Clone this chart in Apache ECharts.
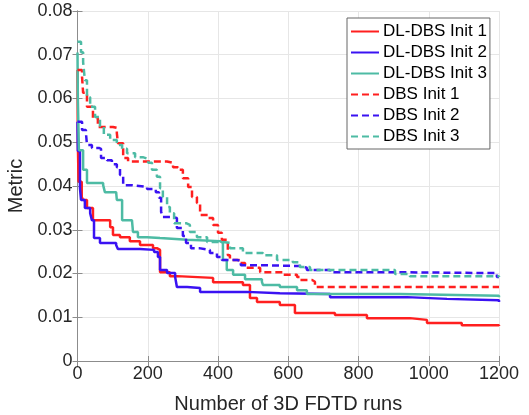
<!DOCTYPE html>
<html>
<head>
<meta charset="utf-8">
<script src="https://cdn.jsdelivr.net/npm/echarts@6/dist/echarts.min.js"></script>
<style>
  html, body { margin: 0; padding: 0; background: #fff; }
  #chart { width: 529px; height: 415px; }
</style>
</head>
<body>
<div id="chart"></div>
<script>
  // 曲线数据 [runs, metric]
  var dlDbs1 = [[0, 0.0665], [1, 0.05], [3, 0.041], [12, 0.0375], [16, 0.0368], [27, 0.035], [44, 0.0322],
    [93, 0.0306], [101, 0.0288], [121, 0.0283], [149, 0.0274], [178, 0.0265], [215, 0.0258], [226, 0.0254],
    [235, 0.0203], [263, 0.0194], [283, 0.019], [386, 0.018], [471, 0.0174], [491, 0.0144], [511, 0.0135],
    [576, 0.0128], [619, 0.011], [733, 0.0105], [824, 0.0098], [946, 0.0094], [995, 0.0087], [1094, 0.0082],
    [1200, 0.008]];
  var dlDbs2 = [[0, 0.0547], [1, 0.048], [7, 0.0395], [10, 0.0368], [21, 0.035], [36, 0.0338], [41, 0.0322],
    [47, 0.0281], [64, 0.027], [110, 0.0265], [115, 0.0256], [178, 0.0254], [218, 0.0249], [229, 0.0238],
    [235, 0.0208], [255, 0.0201], [278, 0.0192], [283, 0.0169], [312, 0.0167], [349, 0.0158], [482, 0.0155],
    [576, 0.0153], [719, 0.0146], [938, 0.0142], [1052, 0.0139], [1200, 0.0135]];
  var dlDbs3 = [[0, 0.0705], [1, 0.06], [4, 0.0482], [16, 0.0437], [27, 0.0407], [73, 0.0402], [78, 0.0386],
    [110, 0.0384], [112, 0.0368], [127, 0.0322], [155, 0.0318], [158, 0.0295], [172, 0.0283], [198, 0.0281],
    [235, 0.0277], [312, 0.0274], [406, 0.027], [414, 0.0231], [425, 0.0208], [443, 0.0197], [477, 0.0187],
    [525, 0.0181], [528, 0.0174], [576, 0.0169], [625, 0.0162], [653, 0.0153], [918, 0.0149], [1200, 0.0146]];
  var dbs1 = [[0, 0.0665], [13, 0.0649], [16, 0.0613], [27, 0.0581], [44, 0.0555], [58, 0.0535], [101, 0.0533],
    [112, 0.0521], [115, 0.0498], [130, 0.0464], [144, 0.0456], [255, 0.0453], [272, 0.0443], [286, 0.0437],
    [300, 0.0418], [315, 0.0398], [326, 0.0375], [340, 0.0361], [349, 0.0334], [371, 0.0327], [386, 0.0311],
    [400, 0.0293], [411, 0.0277], [428, 0.0242], [434, 0.0231], [463, 0.0224], [477, 0.0213], [520, 0.0203],
    [585, 0.0197], [625, 0.0192], [633, 0.0185], [668, 0.0181], [676, 0.0169], [1200, 0.0169]];
  var dbs2 = [[0, 0.0547], [13, 0.0528], [24, 0.0521], [27, 0.0494], [41, 0.0487], [61, 0.0485], [67, 0.0464],
    [84, 0.0459], [98, 0.045], [112, 0.0443], [121, 0.0425], [130, 0.0402], [155, 0.0398], [198, 0.0393],
    [223, 0.0386], [232, 0.0373], [238, 0.0341], [243, 0.0329], [269, 0.0327], [283, 0.0304], [300, 0.0286],
    [309, 0.027], [323, 0.0258], [346, 0.0254], [377, 0.0247], [397, 0.0238], [411, 0.0231], [454, 0.0229],
    [465, 0.0219], [520, 0.0217], [633, 0.0213], [653, 0.0208], [719, 0.0203], [904, 0.0201], [1174, 0.0201],
    [1194, 0.0192], [1200, 0.0192]];
  var dbs3 = [[0, 0.073], [10, 0.0706], [16, 0.0683], [21, 0.0642], [27, 0.0603], [36, 0.0581], [50, 0.0558],
    [64, 0.0537], [75, 0.0517], [93, 0.0505], [112, 0.0494], [127, 0.0485], [141, 0.0475], [164, 0.0466],
    [186, 0.0462], [201, 0.0453], [212, 0.0437], [226, 0.0421], [235, 0.0395], [243, 0.0375], [255, 0.0352],
    [263, 0.0338], [275, 0.0315], [309, 0.0311], [320, 0.0295], [340, 0.0283], [369, 0.0272], [411, 0.027],
    [434, 0.0258], [471, 0.0247], [528, 0.0242], [568, 0.0231], [613, 0.0226], [633, 0.0215], [662, 0.0208],
    [767, 0.0208], [904, 0.0199], [946, 0.0194], [1200, 0.0192]];

  var seriesNames = ['DL-DBS Init 1', 'DL-DBS Init 2', 'DL-DBS Init 3', 'DBS Init 1', 'DBS Init 2', 'DBS Init 3'];
  var seriesData = [dlDbs1, dlDbs2, dlDbs3, dbs1, dbs2, dbs3];
  var colors = ['#ff1f1f', '#3a12f2', '#4dbba4', '#ff1f1f', '#3a12f2', '#4dbba4'];

  var font = '"Liberation Sans", Arial, Helvetica, sans-serif';
  var textColor = '#262626';
  var axisColor = '#8c8c8c';

  var series = [];
  for (var i = 0; i < seriesData.length; i++) {
    series.push({
      name: seriesNames[i],
      type: 'line',
      step: 'end',
      symbol: 'none',
      data: seriesData[i],
      lineStyle: {
        color: colors[i],
        width: 2.5,
        type: i < 3 ? 'solid' : [7, 4]
      },
      itemStyle: { color: colors[i] }
    });
  }

  var myChart = echarts.init(document.getElementById('chart'));
  myChart.setOption({
    animation: false,
    grid: {
      left: 77.5,
      right: 30,
      top: 11,
      bottom: 54,
      containLabel: false,
      outerBoundsMode: 'none'
    },
    legend: {
      orient: 'vertical',
      left: 347,
      top: 18,
      itemWidth: 28,
      itemHeight: 14,
      itemGap: 4,
      padding: [5, 3, 4, 3],
      backgroundColor: '#fff',
      borderColor: '#666',
      borderWidth: 1,
      borderRadius: 0,
      itemStyle: { opacity: 0 },
      textStyle: { fontFamily: font, fontSize: 17, color: '#000', padding: [0, 0, 0, -1] },
      data: seriesNames
    },
    xAxis: [{
      type: 'value',
      min: 0,
      max: 1200,
      interval: 200,
      name: 'Number of 3D FDTD runs',
      nameLocation: 'middle',
      nameGap: 33,
      nameTextStyle: { fontFamily: font, fontSize: 20, color: textColor },
      axisLine: { show: true, lineStyle: { color: axisColor } },
      axisTick: { show: true, inside: true, length: 5, lineStyle: { color: axisColor } },
      axisLabel: {
        fontFamily: font, fontSize: 18, color: textColor, margin: 4,
        formatter: function (v) { return String(v); }
      },
      splitLine: { show: true, lineStyle: { color: '#e6e6e6' } }
    }, {
      type: 'value',
      position: 'top',
      min: 0,
      max: 1200,
      interval: 200,
      axisLine: { show: true, lineStyle: { color: axisColor } },
      axisTick: { show: true, inside: true, length: 5, lineStyle: { color: axisColor } },
      axisLabel: { show: false },
      splitLine: { show: false }
    }],
    yAxis: [{
      type: 'value',
      min: 0,
      max: 0.08,
      interval: 0.01,
      name: 'Metric',
      nameLocation: 'middle',
      nameGap: 43,
      nameTextStyle: { fontFamily: font, fontSize: 20, color: textColor },
      axisLine: { show: true, lineStyle: { color: axisColor } },
      axisTick: { show: true, inside: true, length: 5, lineStyle: { color: axisColor } },
      axisLabel: {
        fontFamily: font, fontSize: 18, color: textColor, margin: 5,
        formatter: function (v) { return v === 0 ? '0' : v.toFixed(2); }
      },
      splitLine: { show: true, lineStyle: { color: '#e6e6e6' } }
    }, {
      type: 'value',
      position: 'right',
      min: 0,
      max: 0.08,
      interval: 0.01,
      axisLine: { show: true, lineStyle: { color: axisColor } },
      axisTick: { show: true, inside: true, length: 5, lineStyle: { color: axisColor } },
      axisLabel: { show: false },
      splitLine: { show: false }
    }],
    series: series
  });
</script>
</body>
</html>
